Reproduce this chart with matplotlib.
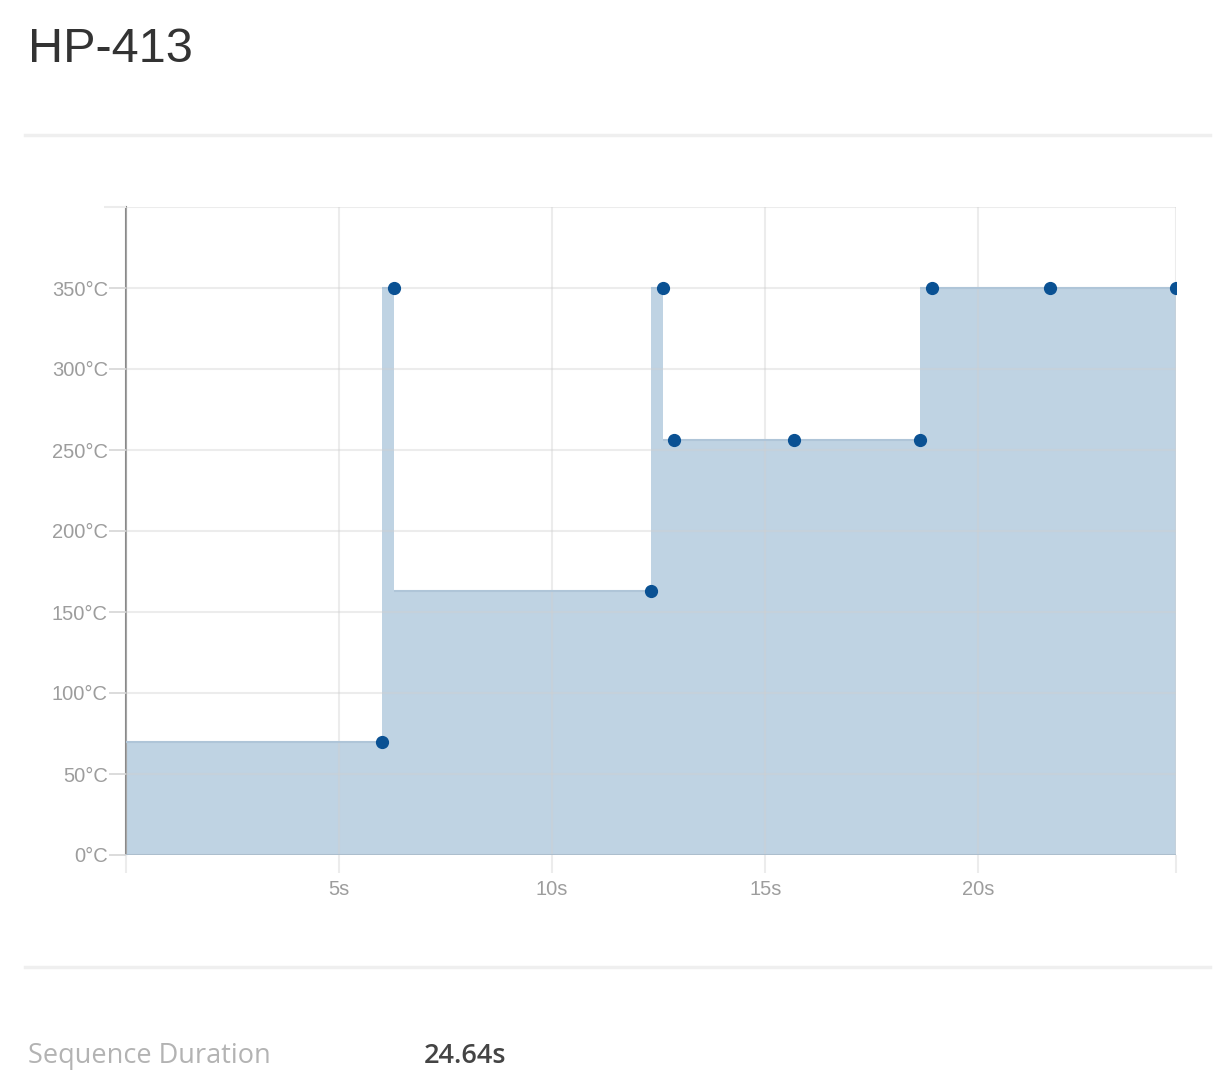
import matplotlib
matplotlib.use('Agg')
import matplotlib.pyplot as plt
from matplotlib.lines import Line2D

# step sequence (seconds, degC); first entry is the start value, no marker
times = [0.0, 6.0, 6.28, 12.33, 12.59, 12.87, 15.67, 18.64, 18.92, 21.69, 24.64]
temps = [70, 70, 350, 163, 350, 256, 256, 256, 350, 350, 350]
yticks = [0, 50, 100, 150, 200, 250, 300, 350]
xticks = [0, 5, 10, 15, 20, 24.64]
xlabels = ['', '5s', '10s', '15s', '20s', '']
title = 'HP-413'
duration = '24.64s'

fill_col = '#bfd3e3'
dot_col = '#0a5193'
grid_col = '#ececec'
txt_col = '#9d9d9d'

fig = plt.figure(figsize=(12.26, 10.76), dpi=100)
ax = fig.add_axes([126/1226, 221/1076, 1050/1226, 648/1076])

ax.fill_between(times, temps, 0, step='pre', color=fill_col, lw=0, zorder=1)
# faint top edge of the area
ax.hlines(temps[1:], times[:-1], times[1:], color='#afc5d8', lw=1.5, zorder=3)
ax.axhline(0, color='#a9bccc', lw=2, zorder=3)
ax.plot(times[1:], temps[1:], 'o', color=dot_col, ms=8.5, zorder=4)

ax.set_xlim(0, 24.64)
ax.set_ylim(0, 400)
ax.set_yticks(yticks)
ax.set_yticklabels([f'{v}°C' for v in yticks])
ax.set_xticks(xticks)
ax.set_xticklabels(xlabels)
ax.set_yticks([400], minor=True)

ax.grid(True, which='both', color='#d0d0d0', alpha=0.4, lw=1.5, zorder=2)
ax.set_axisbelow(False)
for s in ['top', 'right', 'bottom']:
    ax.spines[s].set_visible(False)
ax.spines['left'].set_color('#8a8a8a')
ax.spines['left'].set_linewidth(1.5)

ax.tick_params(axis='y', which='major', length=12, color='#d6d6d6', width=1.2,
               labelsize=14.5, labelcolor=txt_col, pad=1)
ax.tick_params(axis='y', which='minor', length=16, color=grid_col, width=1.5)
ax.tick_params(axis='x', length=13, color=grid_col, width=1.5,
               labelsize=14.5, labelcolor=txt_col, pad=5)
ax.xaxis.get_major_ticks()[0].tick1line.set_color('#8a8a8a')
for lab in ax.get_xticklabels() + ax.get_yticklabels():
    lab.set_family('Liberation Sans')

# page decoration
fig.text(28/1226, 1 - 50/1076, title, fontsize=35, color='#333333',
         family='Liberation Sans', va='center', ha='left')
for yy in [135, 967]:
    fig.add_artist(Line2D([25/1226, 1210/1226], [1 - yy/1076] * 2,
                          color='#efefef', lw=2.5))
fig.text(28/1226, 1 - 1056/1076, 'Sequence Duration', fontsize=19.5,
         color='#b3b3b3', family='Open Sans', va='center', ha='left')
fig.text(424/1226, 1 - 1056/1076, duration, fontsize=19.5, color='#444444',
         family='Open Sans', fontweight='semibold', va='center', ha='left')

fig.savefig('out.png', dpi=100, facecolor='white')
